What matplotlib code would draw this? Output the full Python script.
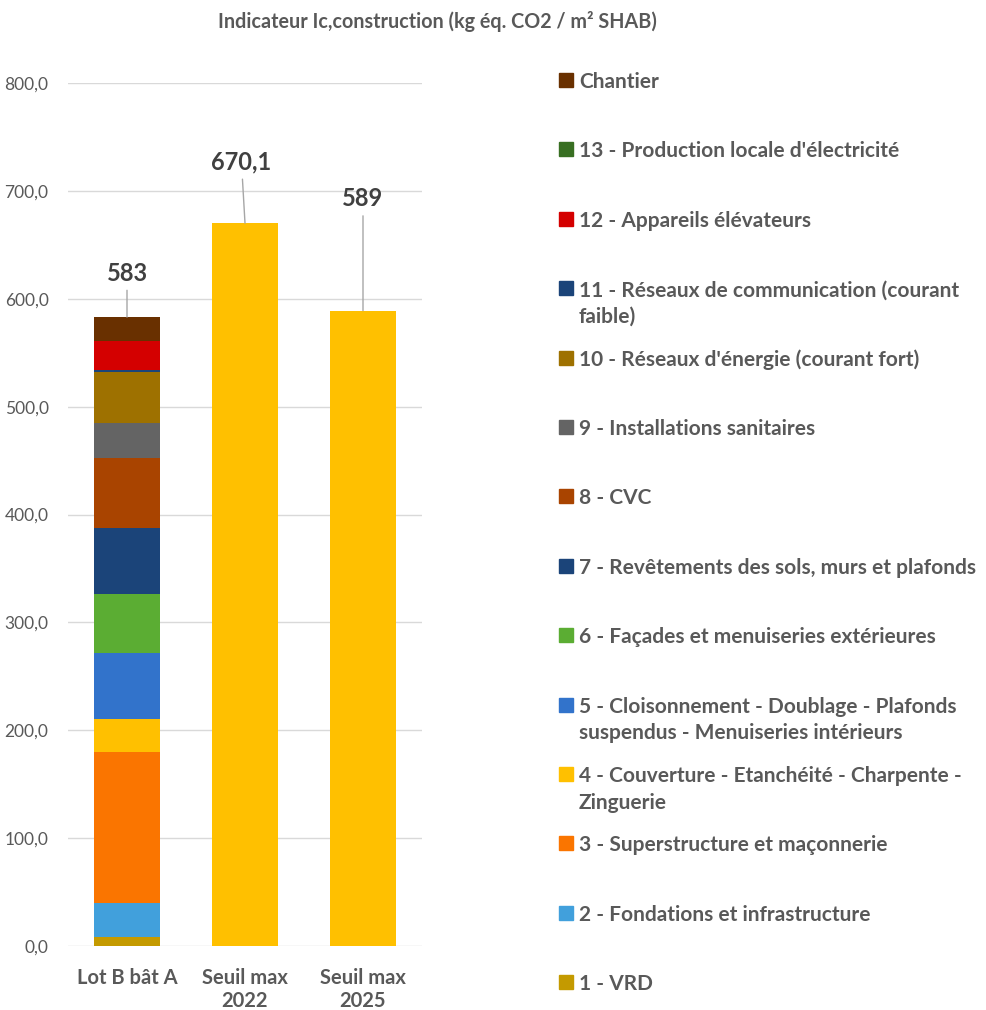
import matplotlib
matplotlib.use("Agg")
import matplotlib.pyplot as plt
import numpy as np

plt.rcParams['font.family'] = ['Lato', 'DejaVu Sans']

# Data
bars = ["Lot B bât A", "Seuil max\n2022", "Seuil max\n2025"]
lots = [
    "1 - VRD",
    "2 - Fondations et infrastructure",
    "3 - Superstructure et maçonnerie",
    "4 - Couverture - Etanchéité - Charpente -\nZinguerie",
    "5 - Cloisonnement - Doublage - Plafonds\nsuspendus - Menuiseries intérieurs",
    "6 - Façades et menuiseries extérieures",
    "7 - Revêtements des sols, murs et plafonds",
    "8 - CVC",
    "9 - Installations sanitaires",
    "10 - Réseaux d'énergie (courant fort)",
    "11 - Réseaux de communication (courant\nfaible)",
    "12 - Appareils élévateurs",
    "13 - Production locale d'électricité",
    "Chantier",
]
lot_values = [8.6, 31.2, 139.6, 31.1, 60.7, 54.9, 61.6, 64.4, 32.4, 47.2, 2.7, 26.6, 0.0, 22.0]
lot_colors = ["#C49A00", "#41A0DC", "#FA7500", "#FFC000", "#3273CB", "#5BAD33",
              "#1B4479", "#A94400", "#646464", "#9E7100", "#1B4479", "#D40000",
              "#386F22", "#693000"]
thresholds = [670.1, 589.0]
total_label = "583"
threshold_labels = ["670,1", "589"]

W, H = 986, 1010
fig = plt.figure(figsize=(W / 100, H / 100), dpi=100)
ax = fig.add_axes([68 / W, 64 / H, 354 / W, 863 / H])

text_col = "#595959"
label_col = "#404040"
width = 0.56

# Stacked bar for the building
bottom = 0.0
for val, col in zip(lot_values, lot_colors):
    ax.bar(0, val, width, bottom=bottom, color=col, zorder=3)
    bottom += val
total = bottom

# Regulatory thresholds
ax.bar([1, 2], thresholds, width, color="#FFC000", zorder=3)

ax.set_xlim(-0.5, 2.5)
ax.set_ylim(0, 800)
ax.set_yticks(np.arange(0, 801, 100))
ax.set_yticklabels([f"{v:.1f}".replace(".", ",") for v in np.arange(0, 801, 100)],
                   color=text_col, fontsize=12.5)
ax.set_xticks(range(len(bars)))
ax.set_xticklabels(bars, color=text_col, fontsize=14.5, fontweight="bold", linespacing=1.2)
ax.tick_params(length=0)
ax.tick_params(axis="x", pad=16)
ax.tick_params(axis="y", pad=14)
ax.grid(axis="y", color="#D9D9D9", linewidth=1, zorder=0)
for s in ax.spines.values():
    s.set_visible(False)

# Value labels with leader lines
def value_label(x, y, txt, tx, ty):
    ax.annotate(txt, xy=(x, y), xytext=(tx, ty), textcoords="data",
                ha="center", va="bottom", fontsize=17, fontweight="bold",
                color=label_col,
                arrowprops=dict(arrowstyle="-", color="#A6A6A6", lw=1,
                                shrinkA=2, shrinkB=0))

value_label(0, total, total_label, 0, 613)
value_label(1, thresholds[0], threshold_labels[0], 0.97, 716)
value_label(2, thresholds[1], threshold_labels[1], 2.0, 682)

fig.text(437 / W, 1 - 21 / H, "Indicateur Ic,construction (kg éq. CO2 / m² SHAB)",
         ha="center", va="center", fontsize=14.2, fontweight="bold", color=text_col)

# Legend, top entry first
y0, dy = 80, 69.4
for i, (name, col) in enumerate(zip(lots[::-1], lot_colors[::-1])):
    yc = y0 + i * dy
    fig.patches.append(plt.Rectangle((559 / W, 1 - (yc + 7) / H), 14 / W, 14 / H,
                                     transform=fig.transFigure, color=col))
    fig.text(579 / W, 1 - (yc - 8) / H, name, ha="left", va="top", fontsize=15,
             fontweight="bold", color=text_col, linespacing=1.42)

fig.savefig("out.png", dpi=100, facecolor="white")
